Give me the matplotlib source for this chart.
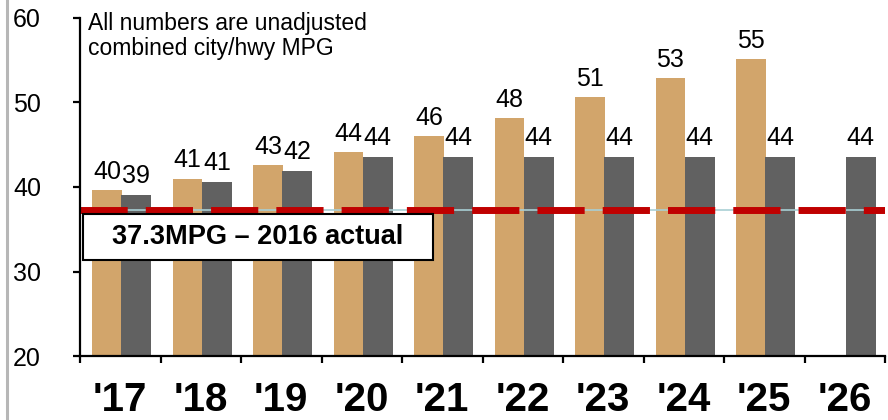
import numpy as np
import matplotlib
matplotlib.use("Agg")
import matplotlib.pyplot as plt
from matplotlib.lines import Line2D
from matplotlib.patches import Rectangle

plt.rcParams['font.family'] = ['Liberation Sans', 'DejaVu Sans']
plt.rcParams['lines.scale_dashes'] = False

# Model years and fuel-economy targets (unadjusted combined city/hwy MPG)
years = ["'17", "'18", "'19", "'20", "'21", "'22", "'23", "'24", "'25", "'26"]
obama_rule = [39.6, 41.0, 42.6, 44.1, 46.0, 48.2, 50.6, 52.9, 55.1, np.nan]
freeze_rule = [39.1, 40.6, 41.9, 43.6, 43.6, 43.6, 43.6, 43.6, 43.6, 43.6]
actual_2016 = 37.3
actual_label = "37.3MPG \u2013 2016 actual"
note = "All numbers are unadjusted\ncombined city/hwy MPG"

TAN = '#D2A56B'
GREY = '#616161'
RED = '#C00000'

fig = plt.figure(figsize=(8.88, 4.2), dpi=100)
ax = fig.add_axes([80 / 888, 64 / 420, 805 / 888, 338 / 420])

x = np.arange(len(years))
w = 0.37
ax.bar(x - 0.165, obama_rule, width=w, color=TAN, zorder=2)
ax.bar(x + 0.20, freeze_rule, width=w, color=GREY, zorder=2)

# value labels
for xi, v in zip(x, obama_rule):
    if not np.isnan(v):
        ax.annotate(f"{v:.0f}", (xi - 0.165, v), xytext=(0, 8), textcoords='offset points',
                    ha='center', va='baseline', fontsize=18, zorder=5)
for xi, v in zip(x, freeze_rule):
    ax.annotate(f"{v:.0f}", (xi + 0.20, v), xytext=(0, 8.5), textcoords='offset points',
                ha='center', va='baseline', fontsize=18, zorder=5)

# 2016 actual reference line
ax.axhline(actual_2016, color='#a9cfd4', lw=1.2, zorder=3)
ax.plot([-0.5, 9.5], [actual_2016, actual_2016], color=RED, lw=5,
        dashes=(34, 13), solid_capstyle='butt', dash_capstyle='butt', zorder=4)

ax.set_xlim(-0.5, 9.5)
ax.set_ylim(20, 60)

# axes styling
for s in ['top', 'right']:
    ax.spines[s].set_visible(False)
for s in ['left', 'bottom']:
    ax.spines[s].set_linewidth(1.6)
    ax.spines[s].set_zorder(6)

ax.set_yticks([20, 30, 40, 50, 60])
ax.tick_params(axis='y', direction='out', length=5, width=1.6, labelsize=18, pad=23)

ax.set_xticks(np.arange(-0.5, 10, 1))
ax.set_xticklabels([])
ax.set_xticks(x, minor=True)
ax.set_xticklabels(years, minor=True, fontsize=29, fontweight='bold')
ax.tick_params(axis='x', which='major', direction='out', length=5, width=1.6)
ax.tick_params(axis='x', which='minor', length=0, pad=18)

# label box for the reference line
y_top = ax.transData.transform((0, actual_2016))[1] - 4
box = Rectangle((83, y_top - 46), 350, 46, transform=None, facecolor='white',
                edgecolor='black', lw=1.5, zorder=7)
fig.patches.append(box)
fig.text(258 / 888, (y_top - 23) / 420, actual_label, ha='center', va='center',
         fontsize=19.5, fontweight='bold', zorder=8)

fig.text(88 / 888, 0.972, note, ha='left', va='top', fontsize=16.5, linespacing=1.15)

# thin grey rule along the left edge
fig.add_artist(Line2D([7 / 888, 7 / 888], [0, 1], transform=fig.transFigure,
                      color='#b7b7b7', lw=2.2))

fig.savefig('out.png', dpi=100)
